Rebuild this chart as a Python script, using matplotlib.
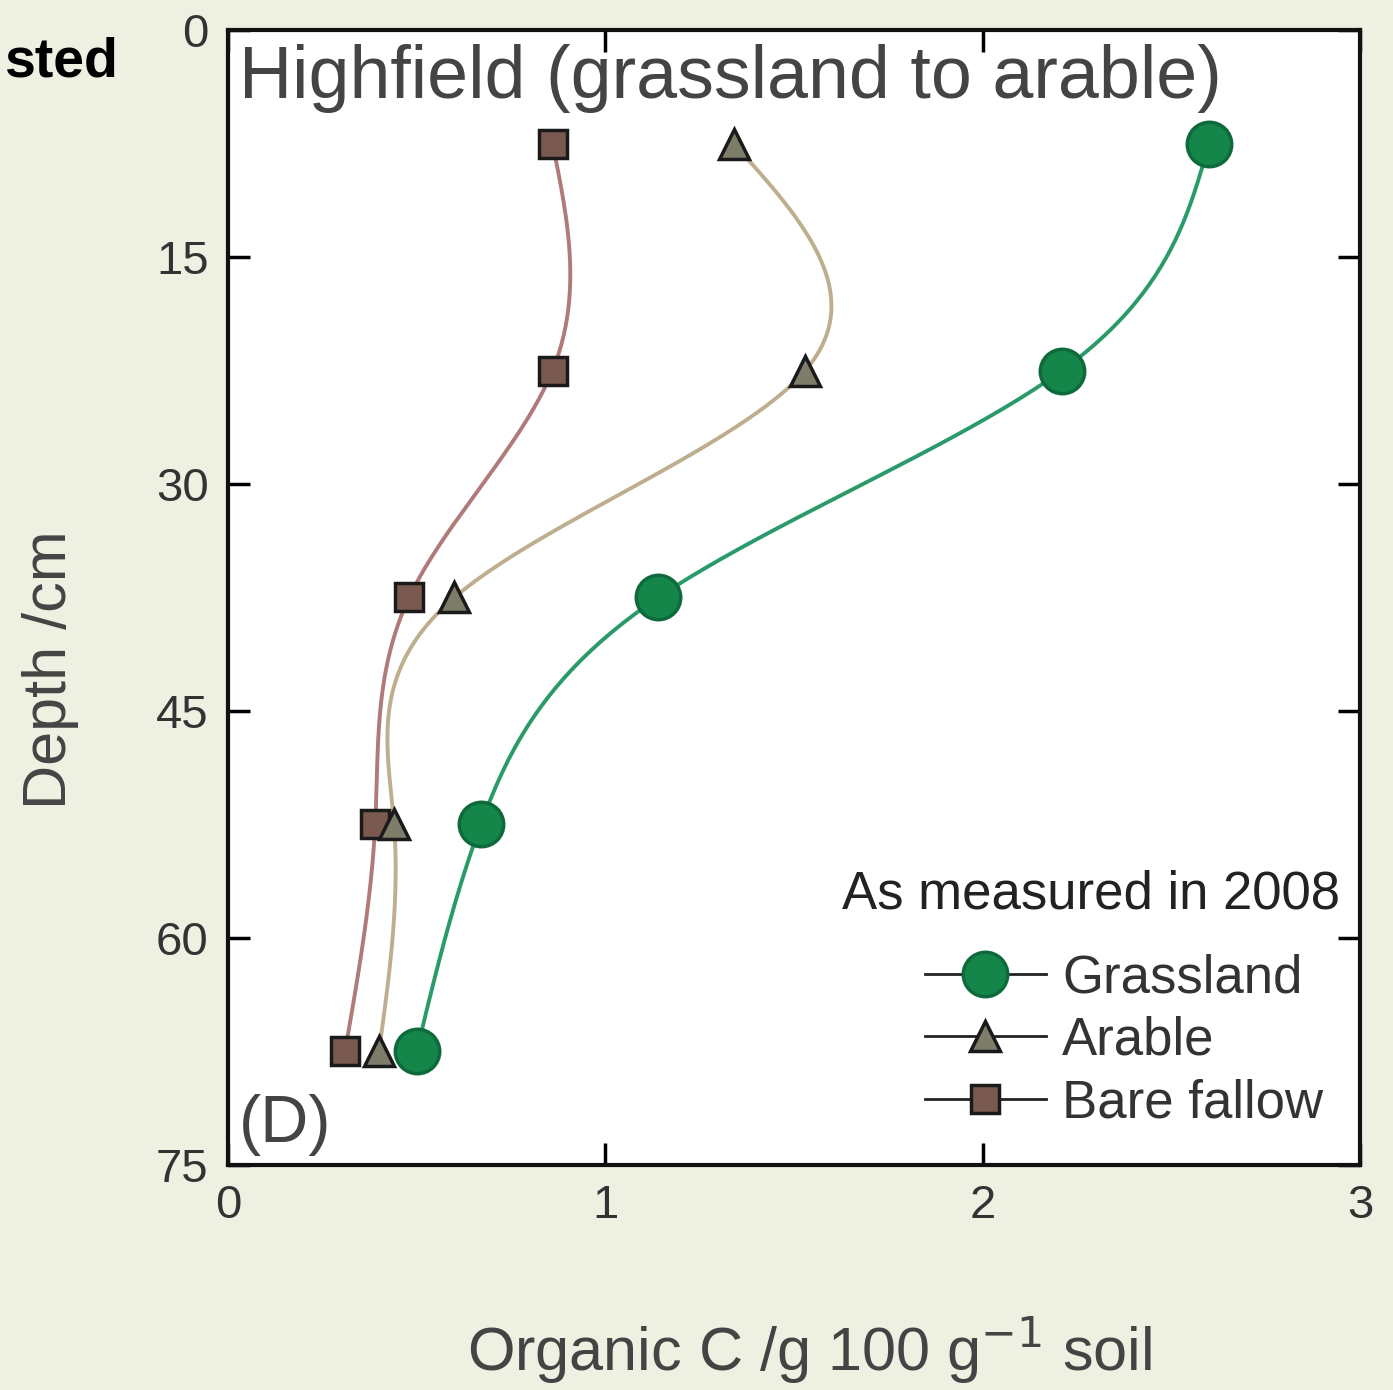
import numpy as np
import matplotlib
matplotlib.use('Agg')
import matplotlib.pyplot as plt

plt.rcParams['font.family'] = ['Liberation Sans', 'DejaVu Sans']

# data
depth = [7.5, 22.5, 37.5, 52.5, 67.5]
grassland = [2.60, 2.21, 1.14, 0.67, 0.50]
arable = [1.34, 1.53, 0.60, 0.44, 0.40]
bare_fallow = [0.86, 0.86, 0.48, 0.39, 0.31]

xticks = [0, 1, 2, 3]
yticks = [0, 15, 30, 45, 60, 75]


def smooth(y, x, n=200):
    # natural cubic spline of x as a function of y (depth)
    y = np.asarray(y, float)
    x = np.asarray(x, float)
    k = len(y)
    h = np.diff(y)
    A = np.zeros((k, k))
    b = np.zeros(k)
    A[0, 0] = A[-1, -1] = 1
    for i in range(1, k - 1):
        A[i, i - 1] = h[i - 1]
        A[i, i] = 2 * (h[i - 1] + h[i])
        A[i, i + 1] = h[i]
        b[i] = 6 * ((x[i + 1] - x[i]) / h[i] - (x[i] - x[i - 1]) / h[i - 1])
    m = np.linalg.solve(A, b)
    yy = np.linspace(y[0], y[-1], n)
    idx = np.clip(np.searchsorted(y, yy) - 1, 0, k - 2)
    t0 = yy - y[idx]
    t1 = y[idx + 1] - yy
    hi = h[idx]
    xx = (m[idx] * t1 ** 3 + m[idx + 1] * t0 ** 3) / (6 * hi) \
        + (x[idx] / hi - m[idx] * hi / 6) * t1 \
        + (x[idx + 1] / hi - m[idx + 1] * hi / 6) * t0
    return xx, yy


fig = plt.figure(figsize=(13.93, 13.90), dpi=100)
fig.patch.set_facecolor('#eef1e1')
ax = fig.add_axes([0.1637, 0.1619, 0.8126, 0.8165])
ax.set_facecolor('white')

series = [
    ('Bare fallow', bare_fallow, '#b07a78', 's', '#7a5a50', 20, '#1a1a1a'),
    ('Arable', arable, '#bfae8e', '^', '#7d7d6a', 22, '#1a1a1a'),
    ('Grassland', grassland, '#2a9a6a', 'o', '#14864a', 32, '#0e6a3a'),
]
handles = {}
for name, vals, lc, mk, fc, ms, ec in series:
    xs, ys = smooth(depth, vals)
    ax.plot(xs, ys, color=lc, lw=2.8, zorder=2)
    ax.plot(vals, depth, ls='none', marker=mk, ms=ms, mfc=fc, mec=ec,
            mew=2.5, zorder=3)
    h, = ax.plot([], [], color='#222222', lw=2, marker=mk, ms=ms, mfc=fc,
                 mec=ec, mew=2.5)
    handles[name] = h

ax.set_xlim(0, 3)
ax.set_ylim(75, 0)
ax.set_xticks(xticks)
ax.set_yticks(yticks)
ax.tick_params(direction='in', length=16, width=2.5, top=True, right=True,
               labelsize=34, labelcolor='#333333', pad=14)
for s in ax.spines.values():
    s.set_linewidth(3)
    s.set_color('#111111')

ax.set_xlabel('Organic C /g 100 g$^{-1}$ soil', fontsize=44, color='#444444', va='center')
ax.xaxis.set_label_coords(0.514, -0.163)
ax.set_ylabel('Depth /cm', fontsize=44, color='#444444', va='center')
ax.yaxis.set_label_coords(-0.157, 0.436)

ax.text(0.01, 0.988, 'Highfield (grassland to arable)', transform=ax.transAxes,
        fontsize=53, color='#444444', va='top', ha='left')
ax.text(0.01, 0.008, '(D)', transform=ax.transAxes,
        fontsize=48, color='#444444', va='bottom', ha='left')

order = ['Grassland', 'Arable', 'Bare fallow']
leg = ax.legend([handles[k] for k in order], order, loc='lower right',
                fontsize=38, frameon=False, handlelength=2.3, handletextpad=0.3,
                labelspacing=0.23, borderaxespad=0.3)
for t in leg.get_texts():
    t.set_color('#333333')
ax.text(0.982, 0.238, 'As measured in 2008', transform=ax.transAxes,
        fontsize=38, color='#222222', ha='right', va='center')

fig.text(0.085, 0.955, 'sted', fontsize=40, fontweight='bold', ha='right', va='center')

fig.savefig('out.png', dpi=100, facecolor=fig.get_facecolor())
